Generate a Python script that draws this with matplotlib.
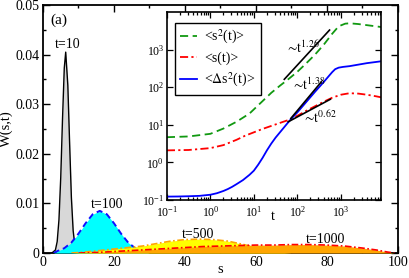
import numpy as np
import matplotlib
matplotlib.use("Agg")
import matplotlib.pyplot as plt
from matplotlib.ticker import MultipleLocator, LogLocator, NullLocator, NullFormatter

plt.rcParams['font.family'] = ['Liberation Serif', 'DejaVu Serif']
plt.rcParams['mathtext.fontset'] = 'stix'

# ---- main panel data: W(s,t) ----
s_t10 = [2.5, 3.5, 4.0, 4.5, 5.0, 5.5, 6.0, 6.4, 7.0, 7.5, 8.0, 8.5, 9.0, 9.5, 10.5]
w_t10 = [0.0, 0.0006, 0.0023, 0.0067, 0.0152, 0.0270, 0.0373, 0.0405, 0.0338, 0.0222,
         0.0112, 0.0045, 0.0014, 0.0003, 0.0]

s_t100 = [3, 4, 6, 8, 10, 12, 14, 16, 18, 20, 22, 24, 26, 28, 30]
w_t100 = [0.0, 0.00037, 0.00097, 0.0021, 0.0039, 0.0060, 0.0078, 0.0085, 0.0078, 0.0060,
          0.0039, 0.0021, 0.00097, 0.00037, 0.0]

s_t500 = [8, 12, 16, 20, 24, 28, 32, 36, 40, 44, 48, 52, 56, 60, 64, 68, 70]
w_t500 = [0.0, 0.0002, 0.0005, 0.0008, 0.0011, 0.0014, 0.0019, 0.0024, 0.0027, 0.0028,
          0.0027, 0.0024, 0.0018, 0.0011, 0.0005, 0.0001, 0.0]

s_t1000 = [10, 15, 20, 25, 30, 35, 40, 45, 50, 55, 60, 65, 70, 75, 80, 85, 90, 94, 97, 99]
w_t1000 = [0.0, 0.0001, 0.0003, 0.0005, 0.0007, 0.0009, 0.0011, 0.0013, 0.0014, 0.0015,
           0.0016, 0.0016, 0.0017, 0.0017, 0.0016, 0.0014, 0.0010, 0.0006, 0.0002, 0.0]

curve_labels = ["t=10", "t=100", "t=500", "t=1000"]
label_s = [6.9, 18.0, 43.6, 79.6]
label_w = [0.0420, 0.0098, 0.0038, 0.0027]

# ---- inset data (log10 t, log10 moment) ----
logt_s2 = [-1, -0.5, 0, 0.3, 0.6, 0.9, 1.2, 1.4, 1.6, 1.8, 2.0, 2.2, 2.4, 2.6, 2.8, 2.95,
           3.1, 3.2, 3.4, 3.6, 3.8, 3.93]
logv_s2 = [0.67, 0.69, 0.76, 0.90, 1.08, 1.30, 1.63, 1.85, 2.04, 2.22, 2.41, 2.63, 2.86,
           3.12, 3.42, 3.62, 3.69, 3.70, 3.68, 3.65, 3.62, 3.60]

logt_s = [-1, -0.5, 0, 0.3, 0.6, 0.8, 1.0, 1.2, 1.4, 1.6, 1.8, 2.0, 2.2, 2.4, 2.6, 2.8,
          3.0, 3.2, 3.4, 3.6, 3.8, 3.93]
logv_s = [0.32, 0.33, 0.38, 0.46, 0.60, 0.71, 0.80, 0.89, 0.97, 1.05, 1.13, 1.24, 1.37,
          1.49, 1.61, 1.72, 1.80, 1.84, 1.83, 1.80, 1.76, 1.73]

logt_ds2 = [-1, -0.75, -0.5, -0.25, 0, 0.15, 0.3, 0.4, 0.5, 0.6, 0.75, 0.9, 1.0, 1.1, 1.2,
            1.3, 1.4, 1.5, 1.6, 1.7, 1.8, 1.9, 2.0, 2.2, 2.4, 2.6, 2.8, 2.87, 2.95, 3.05,
            3.2, 3.4, 3.6, 3.8, 3.93]
logv_ds2 = [-0.91, -0.907, -0.90, -0.89, -0.86, -0.82, -0.76, -0.71, -0.65, -0.58, -0.47,
            -0.33, -0.22, -0.06, 0.12, 0.32, 0.50, 0.66, 0.80, 0.94, 1.08, 1.21, 1.33,
            1.60, 1.87, 2.13, 2.40, 2.48, 2.52, 2.54, 2.56, 2.60, 2.64, 2.67, 2.69]

# power-law guide lines (log10 endpoints)
fit_logt = [[1.70, 2.74], [1.85, 2.55], [1.79, 2.76]]
fit_logv = [[2.21, 3.52], [1.17, 2.14], [1.08, 1.68]]
fit_text = [r"$\sim\!\mathrm{t}^{1.26}$", r"$\sim\!\mathrm{t}^{1.38}$", r"$\sim\!\mathrm{t}^{0.62}$"]
fit_text_logt = [2.12, 2.24, 2.51]
fit_text_logv = [3.06, 2.06, 1.18]

legend_labels = [r"<s$^{2}$(t)>", "<s(t)>", r"<$\Delta$s$^{2}$(t)>"]

fig = plt.figure(figsize=(4.09, 2.78), dpi=100)
ax = fig.add_axes([0.1051, 0.0899, 0.8679, 0.8921])

ax.fill_between(s_t10, w_t10, color='#d8d8d8', lw=0, zorder=1)
ax.plot(s_t10, w_t10, color='black', lw=1.0, zorder=2)
ax.fill_between(s_t100, w_t100, color='#00ffff', lw=0, zorder=3)
ax.plot(s_t100, w_t100, color='#1010ff', lw=1.4, dashes=(3.2, 2.0), zorder=4)
ax.fill_between(s_t500, w_t500, color='#ffff00', lw=0, zorder=5)
ax.plot(s_t500, w_t500, color='#ffa500', lw=1.2, dashes=(4, 1.5, 1, 1.5), zorder=6)
ax.fill_between(s_t1000, w_t1000, color='#ffa500', lw=0, zorder=7)
ax.plot(s_t1000, w_t1000, color='#ff0000', lw=1.2, dashes=(4, 1.5, 1, 1.5), zorder=8)

for lab, xs, ys in zip(curve_labels, label_s, label_w):
    ax.text(xs, ys, lab, ha='center', va='center', fontsize=10, zorder=10)

ax.set_xlim(0, 100)
ax.set_ylim(0, 0.05)
ax.xaxis.set_major_locator(MultipleLocator(20))
ax.xaxis.set_minor_locator(MultipleLocator(10))
ax.set_yticks([0, 0.01, 0.02, 0.03, 0.04, 0.05])
ax.set_yticklabels(["0", "0.01", "0.02", "0.03", "0.04", "0.05"])
ax.yaxis.set_minor_locator(MultipleLocator(0.005))
ax.tick_params(which='both', direction='in', top=True, right=True, labelsize=10, width=1.0)
ax.tick_params(which='major', length=5, pad=2.5)
ax.tick_params(which='minor', length=2.5)
for sp in ax.spines.values():
    sp.set_linewidth(1.3)
ax.text(0.5, -0.068, "s", transform=ax.transAxes, ha='center', va='center', fontsize=10.5)
ax.set_ylabel("W(s,t)", fontsize=10.5, labelpad=2)
ax.text(0.045, 0.94, "(a)", transform=ax.transAxes, fontsize=11, ha='center', va='center')

# ---- inset ----
axi = fig.add_axes([0.408, 0.2806, 0.5232, 0.6762])
axi.set_xscale('log')
axi.set_yscale('log')
t_s2 = [10 ** v for v in logt_s2]
v_s2 = [10 ** v for v in logv_s2]
t_s = [10 ** v for v in logt_s]
v_s = [10 ** v for v in logv_s]
t_ds2 = [10 ** v for v in logt_ds2]
v_ds2 = [10 ** v for v in logv_ds2]
l1, = axi.plot(t_s2, v_s2, color='#119911', lw=1.3, dashes=(4.5, 2.5))
l2, = axi.plot(t_s, v_s, color='#ff0000', lw=1.3, dashes=(4.5, 1.8, 1.2, 1.8))
l3, = axi.plot(t_ds2, v_ds2, color='#0000ff', lw=1.3)
for ft, fv in zip(fit_logt, fit_logv):
    axi.plot([10 ** v for v in ft], [10 ** v for v in fv], color='black', lw=1.2)
for txt, ft, fv in zip(fit_text, fit_text_logt, fit_text_logv):
    axi.text(10 ** ft, 10 ** fv, txt, ha='center', va='center', fontsize=10)

axi.set_xlim(0.1, 10 ** 3.92)
axi.set_ylim(0.1, 1e4)
axi.set_xticks([0.1, 1, 10, 100, 1000])
axi.set_yticks([0.1, 1, 10, 100, 1000])
axi.xaxis.set_minor_locator(LogLocator(base=10, subs=np.arange(2, 10), numticks=20))
axi.xaxis.set_minor_formatter(NullFormatter())
axi.yaxis.set_minor_locator(NullLocator())
axi.tick_params(which='both', direction='in', top=True, right=True, labelsize=8.5, width=0.9)
axi.tick_params(which='major', length=4, pad=2)
axi.tick_params(axis='x', which='major', pad=3.5)
axi.tick_params(which='minor', length=2)
for sp in axi.spines.values():
    sp.set_linewidth(1.2)
fig.text(273 / 409, 1 - 216 / 278, "t", ha='center', va='center', fontsize=10.5)

leg = axi.legend([l1, l2, l3], legend_labels, loc='upper left', bbox_to_anchor=(0.037, 0.943),
                 borderaxespad=0, fontsize=10, frameon=True, fancybox=False,
                 edgecolor='black', framealpha=1, handlelength=1.2, handletextpad=0.5,
                 labelspacing=0.4, borderpad=0.4)
leg.get_frame().set_linewidth(1.0)

fig.savefig("out.png", dpi=100)
